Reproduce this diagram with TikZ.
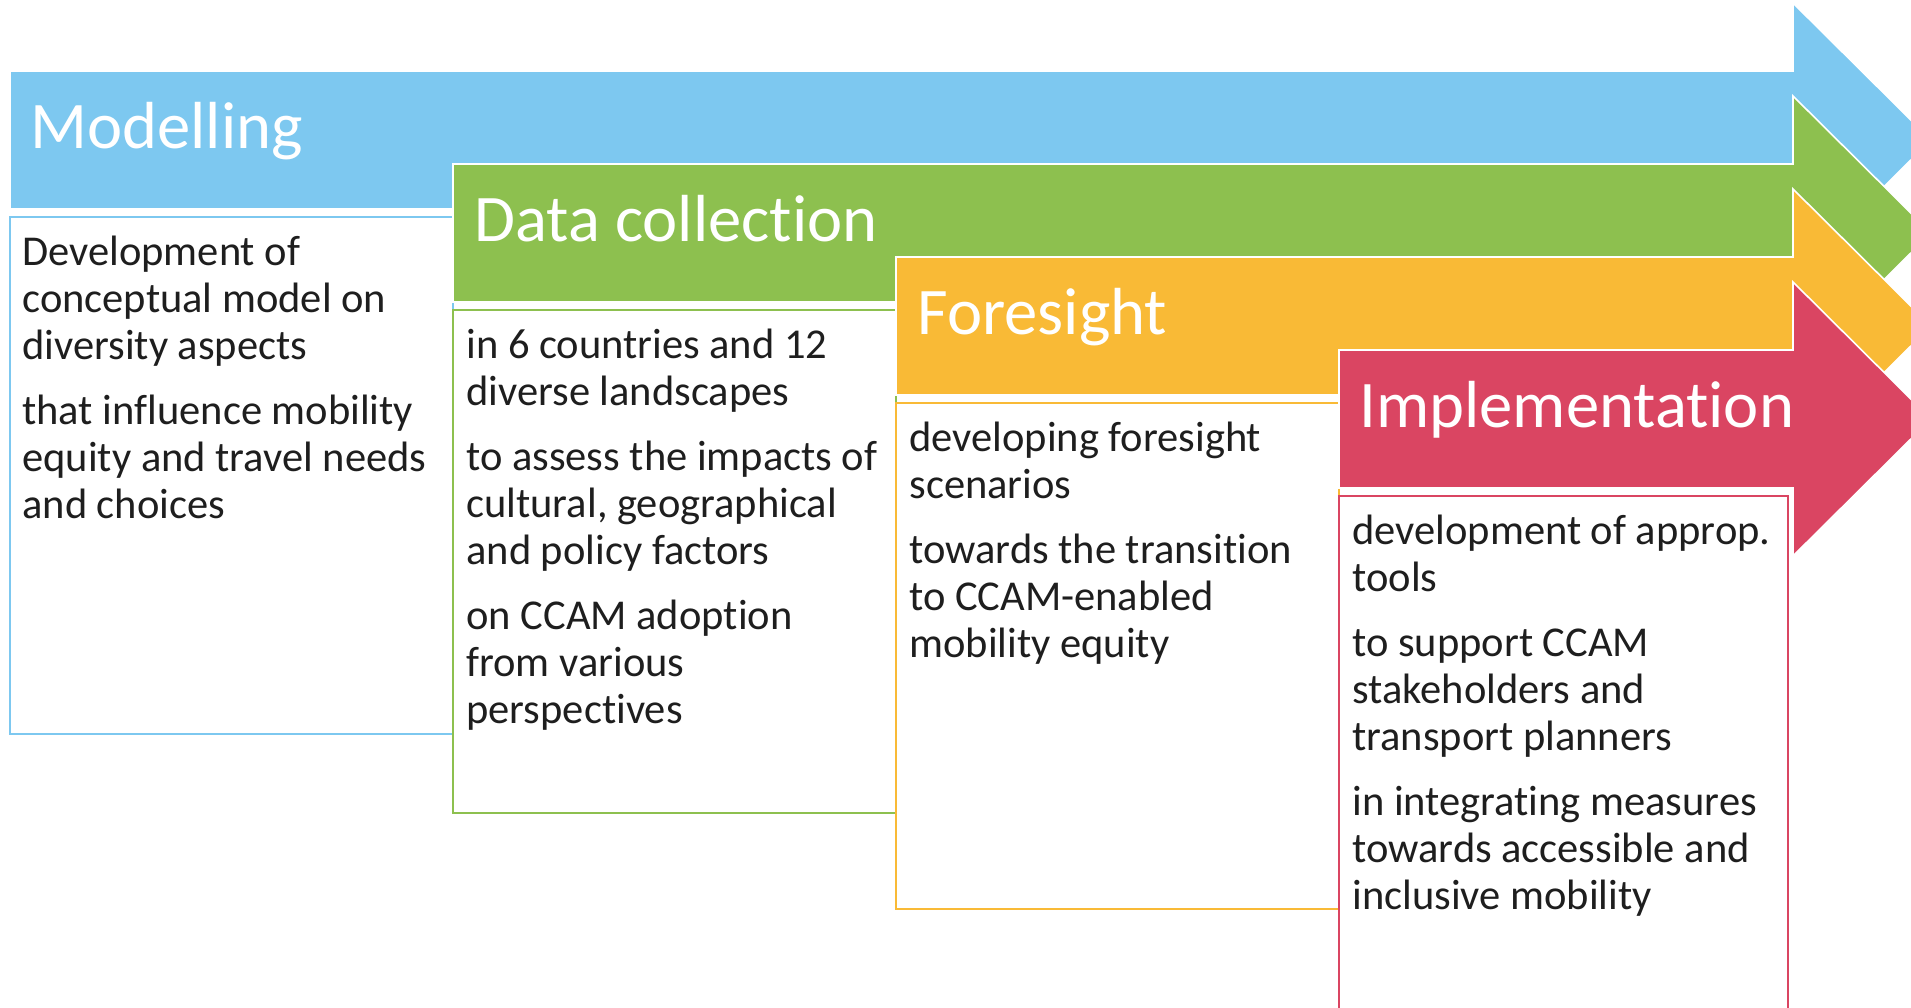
\documentclass[tikz,border=0pt]{standalone}
\usepackage{fontspec}
\setmainfont[Ligatures=NoCommon,RawFeature={-liga;-clig;-dlig}]{Carlito}
\definecolor{cblue}{HTML}{7DC8F0}
\definecolor{cgreen}{HTML}{8DC04F}
\definecolor{corange}{HTML}{F9BA36}
\definecolor{cred}{HTML}{DA4562}
\definecolor{txt}{HTML}{1E1E1E}
\newcommand\stagearrow[3]{%
  \path[arrowshape, fill=#1] (#2,#3) -- (1793,#3) -- (1793,#3-68) -- (1931,#3+69)
    -- (1793,#3+206) -- (1793,#3+138) -- (#2,#3+138) -- cycle;}
\begin{document}
\begin{tikzpicture}[x=0.5pt,y=-0.5pt,
  title/.style={anchor=base west, inner sep=0pt, text=white, font=\fontsize{33.3}{40}\selectfont},
  body/.style={anchor=base west, inner sep=0pt, text=txt, font=\fontsize{21.25}{23.5}\selectfont},
  arrowshape/.style={draw=white, line width=0.8pt, line join=miter},
  boxshape/.style={fill=white, line width=1.2pt}]
\useasboundingbox (0,0) rectangle (1911,1007);
% Modelling
\stagearrow{cblue}{10}{71}
\draw[boxshape, draw=cblue] (10,217) rectangle (453,734);
\node[title] (t1) at (30,148) {Modelling};
\foreach \t/\yy [count=\i] in {{Development of}/265, {conceptual model on}/312, {diversity aspects}/359,
  {that influence mobility}/424, {equity and travel needs}/471, {and choices}/518}
  \node[body] (m\i) at (22,\yy) {\t};
% Data collection
\stagearrow{cgreen}{453}{164}
\draw[boxshape, draw=cgreen] (453,310) rectangle (896,813);
\node[title] (t2) at (474,241) {Data collection};
\foreach \t/\yy [count=\i] in {{in 6 countries and 12}/358, {diverse landscapes}/405,
  {to assess the impacts of}/470, {cultural, geographical}/517, {and policy factors}/564,
  {on CCAM adoption}/629, {from various}/676, {perspectives}/723}
  \node[body] (d\i) at (466,\yy) {\t};
% Foresight
\stagearrow{corange}{896}{257}
\draw[boxshape, draw=corange] (896,403) rectangle (1339,909);
\node[title] (t3) at (917,334) {Foresight};
\foreach \t/\yy [count=\i] in {{developing foresight}/451, {scenarios}/498,
  {towards the transition}/563, {to CCAM-enabled}/610, {mobility equity}/657}
  \node[body] (f\i) at (909,\yy) {\t};
% Implementation
\stagearrow{cred}{1339}{350}
\draw[boxshape, draw=cred] (1339,496) rectangle (1788,1030);
\node[title] (t4) at (1359,427) {Implementation};
\foreach \t/\yy [count=\i] in {{development of approp.}/544, {tools}/591,
  {to support CCAM}/656, {stakeholders and}/703, {transport planners}/750,
  {in integrating measures}/815, {towards accessible and}/862, {inclusive mobility}/909}
  \node[body] (i\i) at (1352,\yy) {\t};
\end{tikzpicture}
\end{document}
